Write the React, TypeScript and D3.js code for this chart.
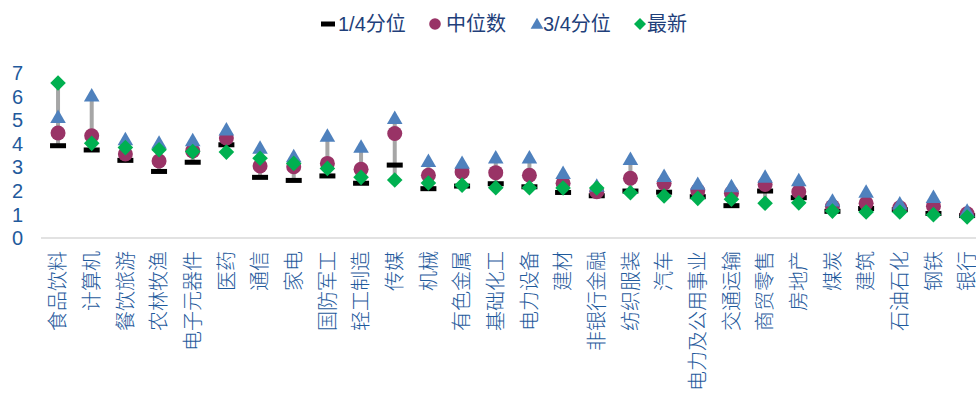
import React from "react";
import * as d3 from "d3";

const categories = ["食品饮料","计算机","餐饮旅游","农林牧渔","电子元器件","医药","通信","家电","国防军工","轻工制造","传媒","机械","有色金属","基础化工","电力设备","建材","非银行金融","纺织服装","汽车","电力及公用事业","交通运输","商贸零售","房地产","煤炭","建筑","石油石化","钢铁","银行"];
const q1Values = [3.91,3.73,3.29,2.82,3.21,3.95,2.57,2.44,2.63,2.32,3.09,2.09,2.2,2.3,2.17,1.93,1.79,1.99,1.94,1.75,1.37,1.99,1.71,1.13,1.25,1.2,1.04,0.95];
const medianValues = [4.45,4.33,3.56,3.26,3.69,4.24,3.05,3.02,3.16,2.91,4.43,2.66,2.8,2.77,2.66,2.32,1.96,2.53,2.32,2.0,1.9,2.27,1.96,1.33,1.47,1.28,1.35,1.03];
const q3Values = [5.06,5.97,4.12,3.97,4.08,4.53,3.76,3.4,4.27,3.8,5.02,3.2,3.12,3.35,3.35,2.69,2.15,3.28,2.56,2.23,2.13,2.53,2.38,1.52,1.9,1.4,1.67,1.09];
const latestValues = [6.57,4.01,3.83,3.74,3.66,3.64,3.38,3.16,2.95,2.57,2.46,2.33,2.24,2.13,2.13,2.12,2.12,1.92,1.78,1.68,1.64,1.47,1.49,1.14,1.1,1.1,0.99,0.89];
const yTicks = [0,1,2,3,4,5,6,7];
const legendLabels = ["1/4分位","中位数","3/4分位","最新"];

const W = 976, H = 400;
const C_Q1 = "#000000", C_MED = "#993366", C_Q3 = "#4F81BD", C_LAT = "#00B050", C_HL = "#A6A6A6";
const AXIS_TXT = "#1F5A9C";
const LEG_TXT = "#1F3F7A";
const FONT = "'Liberation Sans', Arial, 'Noto Sans CJK SC', sans-serif";
const CJK = "'Noto Sans CJK SC', sans-serif";

export default function App() {
  const x = d3.scaleBand<string>().domain(categories).range([41.2, 41.2 + 28 * 33.67]).padding(0);
  const y = d3.scaleLinear().domain([0, 7]).range([238, 72.8]);
  const cx = (c: string) => (x(c) as number) + x.bandwidth() / 2;
  const tri = d3.symbol().type(d3.symbolTriangle).size(105)();
  const triLeg = d3.symbol().type(d3.symbolTriangle).size(70)();
  const dia = (s: number) => `M0,${-s}L${s},0L0,${s}L${-s},0Z`;

  const legendItems = [
    { mx: 328, tx: 338, label: legendLabels[0], kind: "dash" },
    { mx: 435, tx: 446, label: legendLabels[1], kind: "circle" },
    { mx: 537, tx: 543, label: legendLabels[2], kind: "tri" },
    { mx: 640, tx: 647, label: legendLabels[3], kind: "dia" },
  ];
  const ly = 24;

  return (
    <svg width={W} height={H} style={{ position: "absolute", left: 0, top: 0, background: "#fff" }}>
      {/* legend */}
      {legendItems.map((it, i) => (
        <g key={i}>
          {it.kind === "dash" && <rect x={it.mx - 7} y={ly - 2.5} width={14} height={5} fill={C_Q1} />}
          {it.kind === "circle" && <circle cx={it.mx} cy={ly} r={5.8} fill={C_MED} />}
          {it.kind === "tri" && <path d={triLeg as string} transform={`translate(${it.mx},${ly + 1})`} fill={C_Q3} />}
          {it.kind === "dia" && <path d={dia(6)} transform={`translate(${it.mx},${ly})`} fill={C_LAT} />}
          <text x={it.tx} y={ly} dy="0.36em" fontSize={20} fill={LEG_TXT} fontFamily={FONT}>{it.label}</text>
        </g>
      ))}
      {/* y ticks */}
      {yTicks.map((t) => (
        <text key={t} x={23} y={y(t)} dy="0.36em" textAnchor="end" fontSize={20} fill={AXIS_TXT} fontFamily={FONT}>{t}</text>
      ))}
      {/* axis line */}
      <line x1={41} x2={985} y1={y(0)} y2={y(0)} stroke="#D9D9D9" strokeWidth={1.5} />
      {/* high-low lines */}
      {categories.map((c, i) => {
        const vals = [q1Values[i], medianValues[i], q3Values[i], latestValues[i]];
        return <line key={c} x1={cx(c)} x2={cx(c)} y1={y(d3.min(vals) as number)} y2={y(d3.max(vals) as number)} stroke={C_HL} strokeWidth={4} />;
      })}
      {/* 1/4 */}
      {categories.map((c, i) => (
        <rect key={c} x={cx(c) - 8} y={y(q1Values[i]) - 2.5} width={16} height={5} fill={C_Q1} />
      ))}
      {/* median */}
      {categories.map((c, i) => (
        <circle key={c} cx={cx(c)} cy={y(medianValues[i])} r={7.5} fill={C_MED} />
      ))}
      {/* 3/4 */}
      {categories.map((c, i) => (
        <path key={c} d={tri as string} transform={`translate(${cx(c)},${y(q3Values[i])})`} fill={C_Q3} />
      ))}
      {/* latest */}
      {categories.map((c, i) => (
        <path key={c} d={dia(7.8)} transform={`translate(${cx(c)},${y(latestValues[i])})`} fill={C_LAT} />
      ))}
      {/* x labels */}
      {categories.map((c) => (
        <text key={c} transform={`translate(${cx(c)},251) rotate(-90)`} dy="0.36em" textAnchor="end" fontSize={20} fill={AXIS_TXT} fontFamily={CJK} fontWeight={300}>{c}</text>
      ))}
    </svg>
  );
}
